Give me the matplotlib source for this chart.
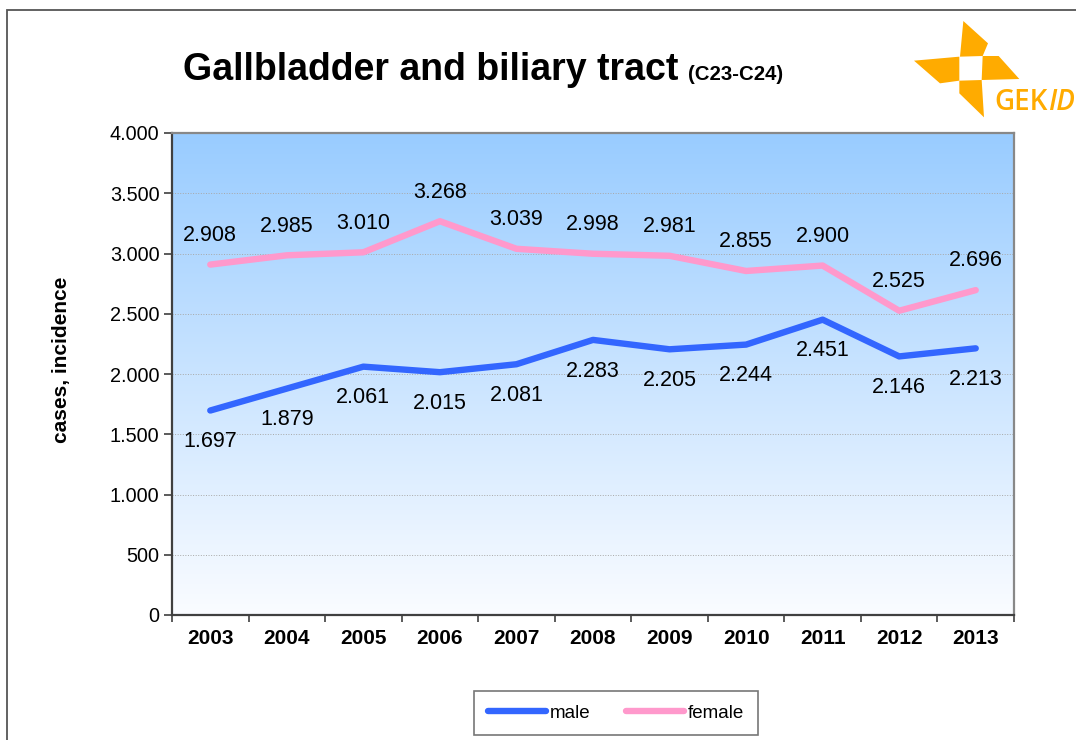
import numpy as np
import matplotlib
matplotlib.use("Agg")
import matplotlib.pyplot as plt
from matplotlib.patches import Polygon, Rectangle
from matplotlib.ticker import FuncFormatter
from matplotlib.lines import Line2D

years = ["2003", "2004", "2005", "2006", "2007", "2008", "2009", "2010", "2011", "2012", "2013"]
male = [1697, 1879, 2061, 2015, 2081, 2283, 2205, 2244, 2451, 2146, 2213]
female = [2908, 2985, 3010, 3268, 3039, 2998, 2981, 2855, 2900, 2525, 2696]
y_ticks = [0, 500, 1000, 1500, 2000, 2500, 3000, 3500, 4000]

plt.rcParams['font.family'] = ['Liberation Sans', 'DejaVu Sans']

W, H = 1076, 740
fig = plt.figure(figsize=(W / 100, H / 100), dpi=100)
fig.patch.set_facecolor('white')

def fx(px):
    return px / W

def fy(py):
    return 1 - py / H

# figure border (top + left visible)
fig.patches.append(Rectangle((fx(6.5), -0.5), 2, fy(10) + 0.5, transform=fig.transFigure,
                             fill=False, edgecolor='#555555', linewidth=1.3, zorder=0))

ax = fig.add_axes([fx(172), fy(615), fx(1014) - fx(172), (615 - 133) / H])
x = np.arange(len(years))
ax.set_xlim(-0.5, len(years) - 0.5)
ax.set_ylim(0, 4000)

# gradient background
top = np.array([153, 204, 255]) / 255
bot = np.array([250, 252, 255]) / 255
t = np.linspace(0, 1, 256)[:, None]
grad = (top[None, :] * (1 - t) + bot[None, :] * t)[:, None, :]
ax.imshow(grad, extent=[-0.5, len(years) - 0.5, 0, 4000], aspect='auto', zorder=0,
          interpolation='bilinear')

ax.set_yticks(y_ticks)
ax.yaxis.set_major_formatter(FuncFormatter(lambda v, p: f"{v:,.0f}".replace(',', '.')))
ax.tick_params(axis='y', direction='out', length=6, width=1.2, color='#404040',
               labelsize=14.3, pad=3)
ax.grid(axis='y', linestyle=':', color='#a8a8a8', linewidth=0.7, zorder=1)

ax.set_xticks(np.arange(-0.5, len(years), 1.0))
ax.set_xticklabels([])
ax.tick_params(axis='x', which='major', direction='out', length=5, width=1.2, color='#404040')
ax.set_xticks(x, minor=True)
ax.set_xticklabels(years, minor=True, fontsize=15, fontweight='bold')
ax.tick_params(axis='x', which='minor', length=0, pad=10)

for s in ['left', 'bottom']:
    ax.spines[s].set_color('#404040')
    ax.spines[s].set_linewidth(1.6)
for s in ['top', 'right']:
    ax.spines[s].set_color('#888888')
    ax.spines[s].set_linewidth(1.6)

male_c = '#3366FF'
female_c = '#FF99CC'
ax.plot(x, female, color=female_c, linewidth=4.6, solid_capstyle='round', zorder=3)
ax.plot(x, male, color=male_c, linewidth=4.6, solid_capstyle='round', zorder=3)

def fmt(v):
    return f"{v:,.0f}".replace(',', '.')

for xi, v in zip(x, female):
    ax.annotate(fmt(v), (xi, v), xytext=(0, 21), textcoords='offset points',
                ha='center', va='center', fontsize=15.5, color='black', zorder=4)
for xi, v in zip(x, male):
    ax.annotate(fmt(v), (xi, v), xytext=(0, -22.5), textcoords='offset points',
                ha='center', va='center', fontsize=15.5, color='black', zorder=4)

fig.text(fx(62), fy(360), 'cases, incidence', rotation=90, ha='center', va='center',
         fontsize=15, fontweight='bold')

# title
fig.text(fx(183), fy(80), 'Gallbladder and biliary tract', ha='left', va='baseline',
         fontsize=27, fontweight='bold')
fig.text(fx(688), fy(80), '(C23-C24)', ha='left', va='baseline',
         fontsize=14.7, fontweight='bold')

# legend
handles = [Line2D([], [], color=male_c, linewidth=4.6, solid_capstyle='round'),
           Line2D([], [], color=female_c, linewidth=4.6, solid_capstyle='round')]
leg = fig.legend(handles, ['male', 'female'], loc='center',
                 bbox_to_anchor=(fx(616), fy(713)), ncol=2, fontsize=13.5,
                 handlelength=3.1, handletextpad=0.2, columnspacing=1.9,
                 fancybox=False, frameon=True, borderpad=0.72, borderaxespad=0)
leg.get_frame().set_edgecolor('#555555')
leg.get_frame().set_linewidth(1.2)

# logo
orange = '#FFAB00'
lax = fig.add_axes([fx(900), fy(130), 176 / W, 120 / H])
lax.set_xlim(0, 528)
lax.set_ylim(360, 0)
lax.axis('off')
blades = [
    [(190, 33), (264, 100), (248, 138), (180, 140)],
    [(42, 152), (178, 140), (178, 212), (120, 220)],
    [(248, 138), (296, 138), (358, 207), (245, 210)],
    [(178, 212), (245, 210), (252, 322), (178, 250)],
]
for b in blades:
    lax.add_patch(Polygon(b, closed=True, facecolor=orange, edgecolor='none'))

logo_font = dict(color=orange, family=['Open Sans', 'DejaVu Sans'], fontweight='semibold')
renderer = fig.canvas.get_renderer()
t1 = fig.text(fx(994), fy(110), 'GEK', ha='left', va='baseline', fontsize=20, **logo_font)
t2 = fig.text(fx(1040), fy(110), 'ID', ha='left', va='baseline', fontsize=20,
              style='italic', **logo_font)
w_total = (t1.get_window_extent(renderer).width + t2.get_window_extent(renderer).width)
fs = 20 * 80.0 / w_total
t1.set_fontsize(fs)
t2.set_fontsize(fs)
e1 = t1.get_window_extent(renderer)
t2.set_x(fx(e1.x1 + 0.5))

fig.savefig('out.png', dpi=100)
